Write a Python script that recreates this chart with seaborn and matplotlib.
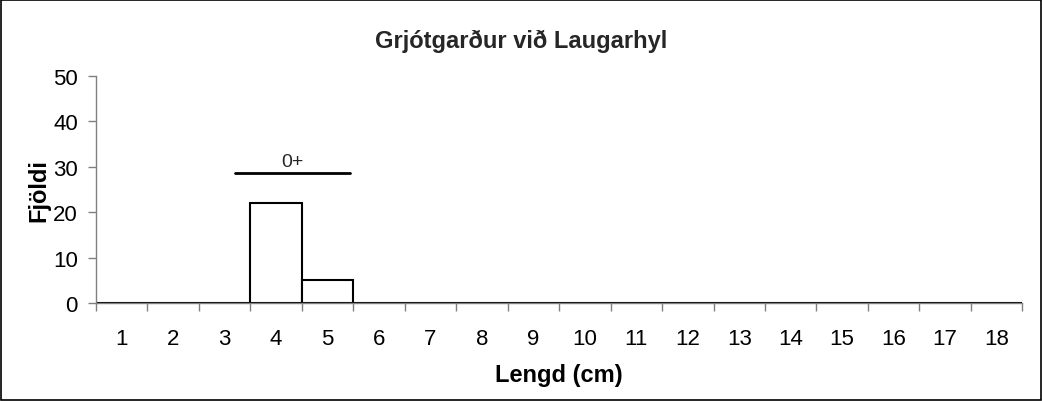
import numpy as np
import pandas as pd
import matplotlib
matplotlib.use("Agg")
import matplotlib.pyplot as plt
import seaborn as sns

# Length classes (cm) and fish counts
lengths = list(range(1, 19))
counts = [0, 0, 0, 22, 5, 0, 0, 0, 0, 0, 0, 0, 0, 0, 0, 0, 0, 0]

# Age group marker: label, start/end length, height
group_label = "0+"
group_start = 3.2
group_end = 5.44
group_y = 28.7

title = "Grjótgarður við Laugarhyl"
xlabel = "Lengd (cm)"
ylabel = "Fjöldi"

sns.set_style("white")
plt.rcParams["font.family"] = ["Liberation Sans", "DejaVu Sans"]

df = pd.DataFrame({"lengd": lengths, "fjoldi": counts})

fig = plt.figure(figsize=(10.42, 4.02), dpi=100)
ax = fig.add_axes([0.0921, 0.2438, 0.889, 0.5647])

sns.barplot(data=df, x="lengd", y="fjoldi", order=lengths, color="white",
            edgecolor="black", linewidth=1.5, width=1.0, ax=ax, saturation=1)

ax.set_ylim(0, 50)
ax.set_xlim(-0.5, len(lengths) - 0.5)
ax.set_yticks(range(0, 51, 10))
ax.tick_params(axis="y", labelsize=16, length=6, width=1, color="#808080",
               direction="out", left=True, pad=7, labelcolor="black")
ax.tick_params(axis="x", which="major", labelsize=16, length=0, pad=18,
               labelcolor="black")
ax.set_xticks(range(len(lengths)))
ax.set_xticklabels([str(v) for v in lengths])
ax.set_xticks(np.arange(-0.5, len(lengths)), minor=True)
ax.tick_params(axis="x", which="minor", length=6, width=1, color="#808080",
               direction="out", bottom=True)

for s in ["top", "right"]:
    ax.spines[s].set_visible(False)
for s in ["left", "bottom"]:
    ax.spines[s].set_color("#808080")
    ax.spines[s].set_linewidth(1)

# age group line and label
x0 = lengths.index(4) + (group_start - 4)
x1 = lengths.index(4) + (group_end - 4)
ax.plot([x0, x1], [group_y, group_y], color="black", linewidth=2, clip_on=False)
ax.text((x0 + x1) / 2, group_y + 0.6, group_label, ha="center", va="bottom",
        fontsize=14)

ax.set_xlabel(xlabel, fontsize=17, fontweight="bold", labelpad=10,
              color="black")
ax.set_ylabel(ylabel, fontsize=17, fontweight="bold", labelpad=2,
              color="black")
fig.suptitle(title, fontsize=17, fontweight="bold", y=0.925)

# frame around the whole chart
fig.patches.append(plt.Rectangle((0.001, 0.002), 0.998, 0.996,
                                 transform=fig.transFigure, fill=False,
                                 edgecolor="black", linewidth=1.2))

fig.savefig("out.png", dpi=100)
